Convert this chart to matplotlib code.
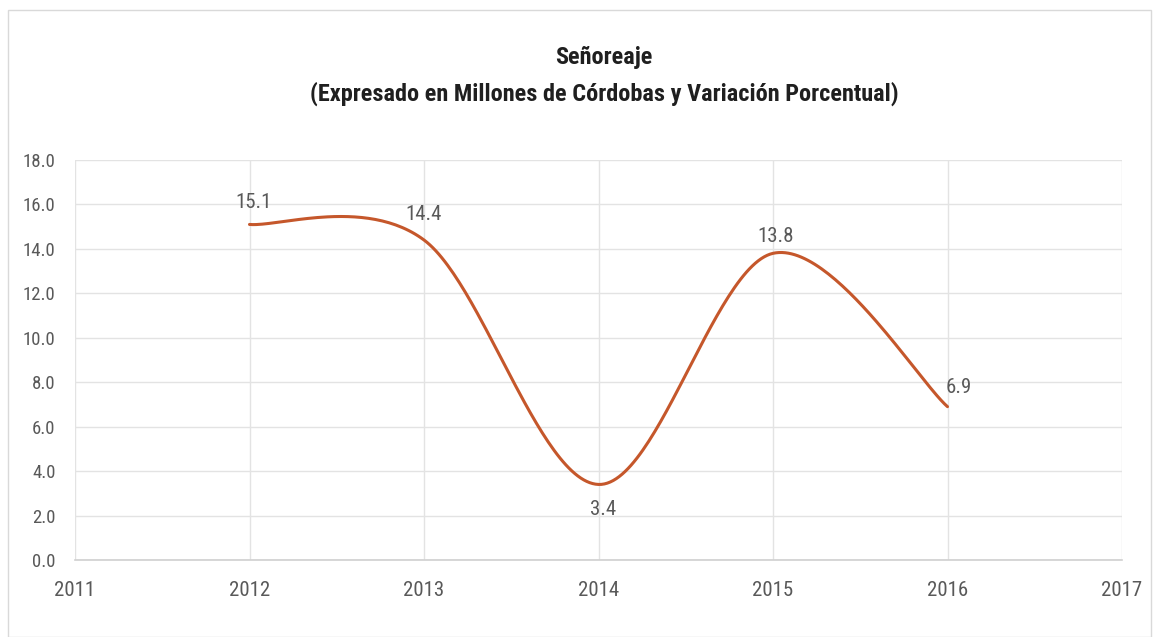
import numpy as np
import matplotlib
matplotlib.use("Agg")
import matplotlib.pyplot as plt
from matplotlib import font_manager
from matplotlib.patches import Rectangle

# pick the narrowest family that is installed
installed = {f.name for f in font_manager.fontManager.ttflist}
narrow = [f for f in installed if "narrow" in f.lower() or "condensed" in f.lower()]
family = None
for cand in ["Liberation Sans Narrow", "Roboto Condensed", "Open Sans Condensed"] + sorted(narrow):
    if cand in installed:
        family = cand
        break
if family is None:
    family = "Liberation Sans"
plt.rcParams['font.family'] = [family, 'DejaVu Sans']

# data
years = [2012, 2013, 2014, 2015, 2016]
values = [15.1, 14.4, 3.4, 13.8, 6.9]
labels = ["15.1", "14.4", "3.4", "13.8", "6.9"]
title = "Señoreaje\n(Expresado en Millones de Córdobas y Variación Porcentual)"

LINE_COLOR = "#C5572B"
TEXT_COLOR = "#595959"
GRID_COLOR = "#E3E3E3"


def excel_smooth(x, y, n=60):
    """Bezier smoothing like Excel's 'smoothed line' (Catmull-Rom style)."""
    x = np.asarray(x, float)
    y = np.asarray(y, float)
    xs, ys = [], []
    for i in range(len(x) - 1):
        p0 = np.array([x[i], y[i]])
        p1 = np.array([x[i + 1], y[i + 1]])
        prev = np.array([x[i - 1], y[i - 1]]) if i > 0 else p0
        nxt = np.array([x[i + 2], y[i + 2]]) if i + 2 < len(x) else p1
        c1 = p0 + (p1 - prev) / 6
        c2 = p1 - (nxt - p0) / 6
        t = np.linspace(0, 1, n)[:, None]
        pts = ((1 - t) ** 3) * p0 + 3 * ((1 - t) ** 2) * t * c1 + 3 * (1 - t) * t ** 2 * c2 + t ** 3 * p1
        xs.extend(pts[:, 0])
        ys.extend(pts[:, 1])
    return np.array(xs), np.array(ys)


fig = plt.figure(figsize=(11.53, 6.37), dpi=100)
W, H = 1153, 637

# chart frame
fig.patches.append(Rectangle((8 / W, 0), 1143 / W, 1 - 10 / H, transform=fig.transFigure,
                             fill=False, edgecolor="#D9D9D9", linewidth=1.0))

ax = fig.add_axes([75 / W, 1 - 560 / H, (1122 - 75) / W, 400 / H])

sx, sy = excel_smooth(years, values)
ax.plot(sx, sy, color=LINE_COLOR, linewidth=2.2, solid_capstyle="round", zorder=3)

# data labels: (dx, dy) offsets in points
offsets = [(3, 16), (0, 18), (3, -18), (2, 12), (-1, 14)]
for x, y, lab, (dx, dy) in zip(years, values, labels, offsets):
    ha = "left" if x == 2016 else "center"
    ax.annotate(lab, (x, y), xytext=(dx, dy), textcoords="offset points",
                ha=ha, va="center", fontsize=15, color=TEXT_COLOR)

ax.set_xlim(2011, 2017)
ax.set_ylim(0, 18)
ax.set_xticks(range(2011, 2018))
ax.set_yticks(np.arange(0, 18.1, 2))
ax.set_yticklabels([f"{v:.1f}" for v in np.arange(0, 18.1, 2)])
ax.tick_params(length=0, colors=TEXT_COLOR)
ax.tick_params(axis="x", pad=15, labelsize=15)
ax.tick_params(axis="y", pad=14, labelsize=13.5)
ax.grid(True, color=GRID_COLOR, linewidth=1.0)
ax.set_axisbelow(True)
for side in ["top", "right", "left"]:
    ax.spines[side].set_visible(False)
ax.spines["bottom"].set_color("#D0D0D0")
ax.spines["bottom"].set_linewidth(1.2)

fig.text(0.524, 1 - 76 / H, title, ha="center", va="center", fontsize=17.5, fontweight="bold",
         color="#1F1F1F", linespacing=1.65)

fig.savefig("out.png", dpi=100)
